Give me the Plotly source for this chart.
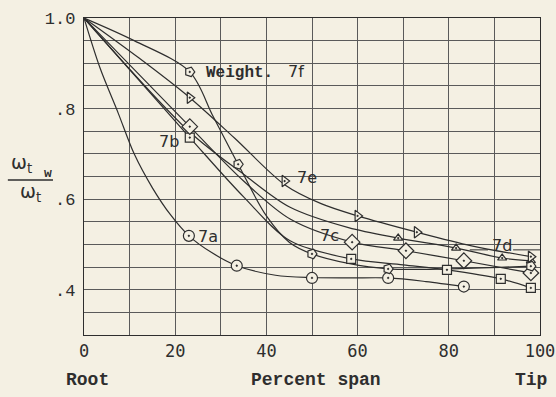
import plotly.graph_objects as go

# Spanwise distribution of the tip-weighted frequency ratio for the cases 7a-7f.
# Each case: the faired curve and the test points.

# 7a - circles
a_curve_x = [0, 3.5, 7.5, 11, 15, 19, 23.0, 28, 33.5, 42, 50, 58, 66.7, 75, 83.3]
a_curve_y = [1.0, 0.89, 0.79, 0.70, 0.625, 0.565, 0.519, 0.482, 0.453, 0.432, 0.427, 0.426, 0.426, 0.418, 0.407]
a_pts_x = [23.0, 33.5, 50.0, 66.7, 83.3]
a_pts_y = [0.519, 0.453, 0.426, 0.426, 0.407]

# 7b - squares
b_curve_x = [0, 23.2, 35, 45.2, 58.6, 70, 79.6, 91.4, 98]
b_curve_y = [1.0, 0.736, 0.605, 0.508, 0.468, 0.455, 0.444, 0.424, 0.404]
b_pts_x = [23.2, 58.6, 79.6, 91.4, 98.0]
b_pts_y = [0.736, 0.468, 0.444, 0.424, 0.404]

# 7c - diamonds
c_curve_x = [0, 23.2, 35, 45.2, 58.8, 70.6, 83.3, 98]
c_curve_y = [1.0, 0.760, 0.640, 0.556, 0.505, 0.486, 0.464, 0.437]
c_pts_x = [23.2, 58.8, 70.6, 83.3, 98.0]
c_pts_y = [0.760, 0.505, 0.486, 0.464, 0.437]

# 7d - small triangles
d_curve_x = [0, 23.0, 35, 45.2, 58, 68.9, 81.6, 91.7, 98]
d_curve_y = [1.0, 0.750, 0.655, 0.582, 0.537, 0.514, 0.492, 0.470, 0.464]
d_pts_x = [68.9, 81.6, 91.7, 98.0]
d_pts_y = [0.514, 0.492, 0.470, 0.464]

# 7e - right-pointing triangles
e_curve_x = [0, 12, 23.2, 33, 44, 52, 60, 73, 85, 98]
e_curve_y = [1.0, 0.912, 0.824, 0.735, 0.632, 0.590, 0.563, 0.527, 0.497, 0.473]
e_pts_x = [23.2, 44.0, 60.0, 73.0, 98.0]
e_pts_y = [0.824, 0.640, 0.563, 0.527, 0.473]

# 7f - weight
f_curve_x = [0, 11, 23.2, 28.3, 33.8, 40, 45, 50, 58, 66.7, 80, 98]
f_curve_y = [1.0, 0.950, 0.881, 0.783, 0.677, 0.563, 0.505, 0.479, 0.458, 0.446, 0.446, 0.452]
f_pts_x = [23.2, 33.8, 50.0, 66.7, 98.0]
f_pts_y = [0.881, 0.677, 0.479, 0.446, 0.452]

x_ticks = [0, 20, 40, 60, 80, 100]
y_ticks = [0.4, 0.6, 0.8, 1.0]
y_tick_text = [".4", ".6", ".8", "1.0"]

BG = "#f4f0e3"
INK = "#2e2e2e"
GRID = "#5a5a5a"

fig = go.Figure()

series = [
    (a_curve_x, a_curve_y, a_pts_x, a_pts_y, "circle-dot", 11, 0),
    (b_curve_x, b_curve_y, b_pts_x, b_pts_y, "square-dot", 9, 0),
    (c_curve_x, c_curve_y, c_pts_x, c_pts_y, "diamond-dot", 12, 0),
    (d_curve_x, d_curve_y, d_pts_x, d_pts_y, "triangle-up-dot", 8, 0),
    (e_curve_x, e_curve_y, e_pts_x, e_pts_y, "triangle-right-dot", 10, 0),
    (f_curve_x, f_curve_y, f_pts_x, f_pts_y, "pentagon-dot", 10, 90),
]

for cx, cy, px, py, sym, size, ang in series:
    fig.add_trace(go.Scatter(
        x=cx, y=cy, mode="lines",
        line=dict(color=INK, width=1.2, shape="spline", smoothing=0.9),
        hoverinfo="skip", showlegend=False))
for cx, cy, px, py, sym, size, ang in series:
    fig.add_trace(go.Scatter(
        x=px, y=py, mode="markers",
        marker=dict(symbol=sym, size=size, color=BG, angle=ang,
                    line=dict(color=INK, width=1.2)),
        showlegend=False))

label_font = dict(family="DejaVu Sans", size=16, color=INK)
mono_bold = dict(family="Liberation Mono", size=16, color=INK)

notes = [
    ("7a", 27.2, 0.517), ("7b", 18.6, 0.728), ("7c", 53.9, 0.519),
    ("7d", 91.7, 0.497), ("7e", 48.9, 0.647),
]
for txt, x, y in notes:
    fig.add_annotation(x=x, y=y, text=txt, showarrow=False, font=label_font,
                       xanchor="center", yanchor="middle")

fig.add_annotation(x=26.3, y=0.879, text="<b>Weight.</b>", xanchor="left", yanchor="middle",
                   showarrow=False, font=mono_bold)
fig.add_annotation(x=44.3, y=0.881, text="7f", xanchor="left", yanchor="middle",
                   showarrow=False, font=label_font)

# leader strokes beside the 7d label
fig.add_shape(type="line", x0=84.6, x1=88.6, y0=0.488, y1=0.488,
              line=dict(color=INK, width=1))
fig.add_shape(type="line", x0=94.1, x1=100, y0=0.488, y1=0.488,
              line=dict(color=INK, width=1))

# bottom captions
for txt, xp in [("Root", 0.007), ("Percent span", 0.509), ("Tip", 0.98)]:
    fig.add_annotation(x=xp, y=-0.142, xref="paper", yref="paper", text=f"<b>{txt}</b>",
                       xanchor="center", yanchor="middle", showarrow=False,
                       font=dict(family="Liberation Mono", size=18, color=INK))

# y-axis ratio caption
fig.add_annotation(x=-0.137, y=0.540, xref="paper", yref="paper", text="ω<sub>t</sub>",
                   xanchor="center", yanchor="middle", showarrow=False,
                   font=dict(family="DejaVu Sans", size=19, color=INK))
fig.add_annotation(x=-0.078, y=0.509, xref="paper", yref="paper", text="<b>w</b>",
                   xanchor="center", yanchor="middle", showarrow=False,
                   font=dict(family="Liberation Mono", size=13, color=INK))
fig.add_shape(type="line", xref="paper", yref="paper", x0=-0.167, x1=-0.068,
              y0=0.489, y1=0.489, line=dict(color=INK, width=1.6))
fig.add_annotation(x=-0.118, y=0.448, xref="paper", yref="paper", text="ω<sub>t</sub>",
                   xanchor="center", yanchor="middle", showarrow=False,
                   font=dict(family="DejaVu Sans", size=19, color=INK))

fig.update_xaxes(range=[0, 100], tickvals=x_ticks, showgrid=True, gridcolor=GRID,
                 gridwidth=1, zeroline=False, showline=True, linecolor=INK, linewidth=1.3,
                 mirror=True, ticks="", ticklabelstandoff=0, automargin=False,
                 tickfont=dict(family="DejaVu Sans Mono", size=17, color=INK),
                 minor=dict(tick0=0, dtick=10, showgrid=True, gridcolor=GRID, gridwidth=1))
fig.update_yaxes(range=[0.3, 1.0], tickvals=y_ticks, ticktext=y_tick_text, showgrid=True,
                 gridcolor=GRID, gridwidth=1, zeroline=False, showline=True, linecolor=INK,
                 linewidth=1.3, mirror=True, ticks="", ticklabelstandoff=4, automargin=False,
                 tickfont=dict(family="Liberation Mono", size=17, color=INK),
                 minor=dict(tick0=0, dtick=0.05, showgrid=True, gridcolor=GRID, gridwidth=1))

fig.update_layout(width=556, height=397, margin=dict(l=84, r=16, t=18, b=62),
                  paper_bgcolor=BG, plot_bgcolor=BG, showlegend=False)

fig.write_html("out.html")
